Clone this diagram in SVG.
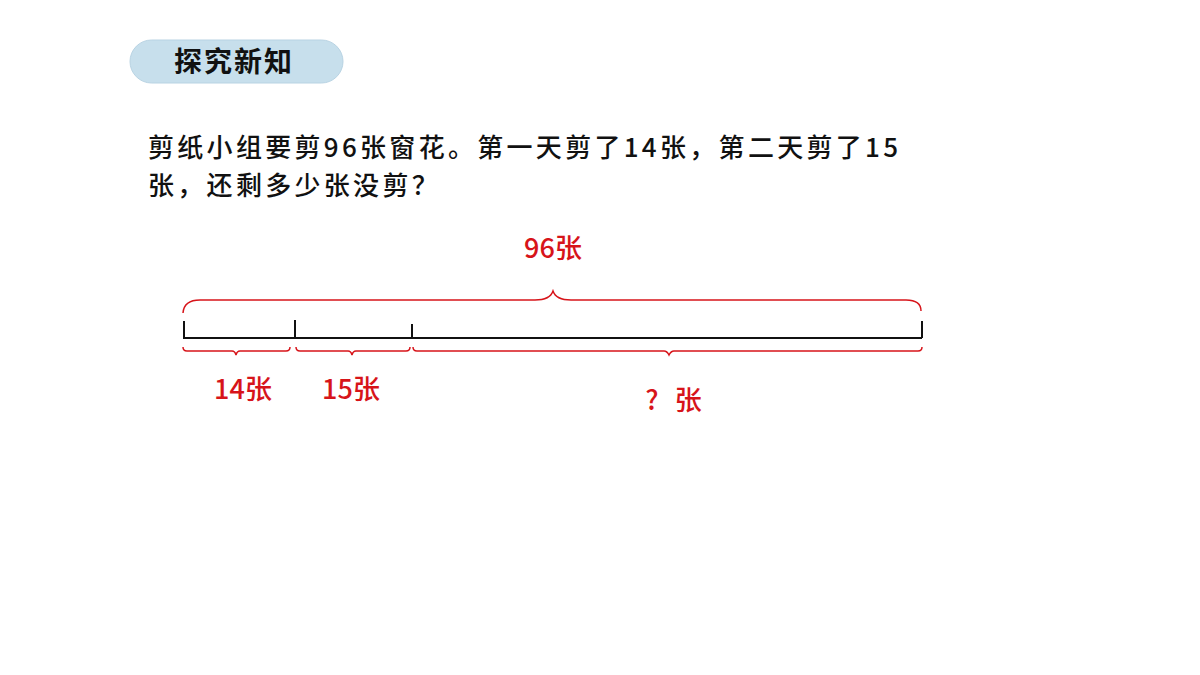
<svg xmlns="http://www.w3.org/2000/svg" width="1200" height="675" viewBox="0 0 1200 675">
<style>
.q{font-family:"Noto Sans CJK SC","Noto Sans",sans-serif;font-size:26px;letter-spacing:3.3px;fill:#111;font-weight:500}
.lbl{font-family:"Noto Sans CJK SC","Noto Sans",sans-serif;font-size:27px;fill:#d7141a;font-weight:500;text-anchor:middle}
.br{fill:none;stroke:#d7141a;stroke-width:1.5}
.bar{fill:none;stroke:#111;stroke-width:2}
</style>
<rect width="1200" height="675" fill="#fff"/>
<g id="title">
<rect x="130" y="40" width="213" height="43" rx="21.5" fill="#c7dfec" stroke="#b8d3e3" stroke-width="1"/>
<text x="174" y="72" font-family="'Noto Sans CJK SC',sans-serif" font-size="28" font-weight="bold" letter-spacing="2" fill="#111">探究新知</text>
</g>
<g id="question">
<text class="q" x="148" y="157">剪纸小组要剪96张窗花。第一天剪了14张，第二天剪了15</text>
<text class="q" x="148" y="195">张，还剩多少张没剪？</text>
</g>
<g id="bar">
<path class="bar" d="M183,338 H922 M184,321 V338 M295,320 V338 M412,324 V338 M922,321 V338"/>
</g>
<g id="connectors">
<path class="br" d="M183,313 Q184,300 200,300 L535,300 Q550,300 553,291 Q556,300 571,300 L906,300 Q921,300 921,311"/>
<path class="br" d="M183,347 Q183,351 187,351 L232,351 Q235,351 236,355 Q237,351 240,351 L286,351 Q290,351 290,347"/>
<path class="br" d="M296,347 Q296,351 300,351 L348,351 Q351,351 352,355 Q353,351 356,351 L406,351 Q410,351 410,347"/>
<path class="br" d="M413,347 Q413,351 417,351 L664,351 Q667,351 669,355 Q671,351 674,351 L918,351 Q922,351 922,347"/>
</g>
<g id="label-total"><text class="lbl" x="553" y="258">96张</text></g>
<g id="label-14"><text class="lbl" x="243" y="399">14张</text></g>
<g id="label-15"><text class="lbl" x="351" y="399">15张</text></g>
<g id="label-rest"><text class="lbl" x="676" y="410" letter-spacing="5">? 张</text></g>
</svg>
